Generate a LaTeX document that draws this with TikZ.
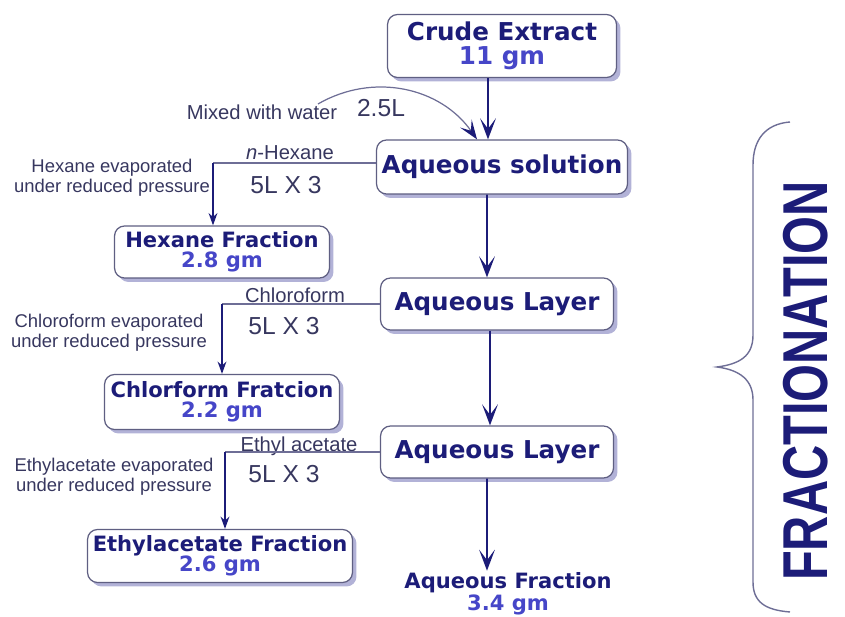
\documentclass[tikz,border=0pt]{standalone}
\usepackage{fontspec}
\setmainfont{DejaVu Sans}
\newfontfamily\labelfont{Liberation Sans}
\usetikzlibrary{arrows.meta,shadows}
\definecolor{navy}{RGB}{28,28,120}
\definecolor{numblue}{RGB}{70,70,200}
\definecolor{boxline}{RGB}{95,95,130}
\definecolor{shade}{RGB}{178,178,215}
\definecolor{thinline}{RGB}{110,110,150}
\definecolor{labtext}{RGB}{55,55,95}
\begin{document}
\begin{tikzpicture}[x=0.02cm, y=-0.02cm,
    box/.style={draw=boxline, line width=0.7pt, rounded corners=0.2cm, fill=white,
        align=center, inner sep=0pt, text=navy,
        drop shadow={shadow xshift=0.08cm, shadow yshift=-0.08cm, fill=shade, opacity=1}},
    bigbox/.style={box, font=\fontsize{14}{14}\selectfont\bfseries},
    fracbox/.style={box, font=\fontsize{12}{11.5}\selectfont\bfseries},
    lab/.style={font=\labelfont\fontsize{11.5}{11.5}\selectfont, text=labtext, inner sep=1pt},
    note/.style={font=\labelfont\fontsize{10.5}{11.5}\selectfont, text=labtext, align=center, inner sep=0pt},
    vol/.style={font=\labelfont\fontsize{14}{14}\selectfont, text=labtext, inner sep=0pt},
    mainarrow/.style={draw=navy, line width=1.1pt, -{Stealth[length=12pt, width=9pt, inset=6pt]}},
    sidearrow/.style={draw=navy, line width=1pt, -{Stealth[length=7pt, width=5pt]}},
    sideline/.style={draw=thinline, line width=0.8pt},
    curvearrow/.style={draw=thinline, line width=0.7pt, -{Stealth[length=11pt, width=8pt, inset=5pt, color=navy]}}]
    \useasboundingbox (0,0) rectangle (845,617);
    % nodes
    \node[bigbox, minimum width=4.58cm, minimum height=1.26cm] (crude) at (502,46) {Crude Extract\\{\color{numblue}11 gm}};
    \node[bigbox, minimum width=5.02cm, minimum height=1.08cm] (aqsol) at (502,167) {Aqueous solution};
    \node[bigbox, minimum width=4.66cm, minimum height=1.04cm] (layer1) at (497,304) {Aqueous Layer};
    \node[bigbox, minimum width=4.66cm, minimum height=1.04cm] (layer2) at (497,452) {Aqueous Layer};
    \node[fracbox, minimum width=4.30cm, minimum height=1.04cm] (hexfrac) at (222,252) {Hexane Fraction\\{\color{numblue}2.8 gm}};
    \node[fracbox, minimum width=4.70cm, minimum height=1.10cm] (chlfrac) at (222,402) {Chlorform Fratcion\\{\color{numblue}2.2 gm}};
    \node[fracbox, minimum width=5.30cm, minimum height=1.06cm] (ethfrac) at (220,556) {Ethylacetate Fraction\\{\color{numblue}2.6 gm}};
    \node[font=\fontsize{12}{11}\selectfont\bfseries, text=navy, align=center, inner sep=1pt] (aqfrac) at (508,594) {Aqueous Fraction\\{\color{numblue}3.4 gm}};
    % labels
    \coordinate (wstart) at (318,104);
    \node[lab] (water) at (262,112) {Mixed with water};
    \node[vol] (waterv) at (381,108) {2.5L};
    \node[lab] (hexlab) at (290,153) {\textit{n}-Hexane};
    \node[vol] (hexvol) at (286,185) {5L X 3};
    \node[note] (hexnote) at (112,178) {Hexane evaporated\\under reduced pressure};
    \node[lab] (chllab) at (295,295) {Chloroform};
    \node[vol] (chlvol) at (284,326) {5L X 3};
    \node[note] (chlnote) at (109,333) {Chloroform evaporated\\under reduced pressure};
    \node[lab] (ethlab) at (299,446) {Ethyl acetate};
    \node[vol] (ethvol) at (284,474) {5L X 3};
    \node[note] (ethnote) at (114,477) {Ethylacetate evaporated\\under reduced pressure};
    % turning points of the side branches
    \coordinate (hexdrop) at ([xshift=-0.18cm]hexfrac.north);
    \coordinate (hexstart) at ([yshift=0.08cm]aqsol.west);
    \coordinate (ethdrop) at ([xshift=0.1cm]ethfrac.north);
    % edges
    \draw[mainarrow] ([xshift=-0.28cm]crude.south) -- ([xshift=-0.28cm]aqsol.north);
    \draw[curvearrow] (wstart) to[out=30, in=125] ([xshift=-0.5cm]aqsol.north);
    \draw[mainarrow] ([xshift=-0.3cm]aqsol.south) -- ([xshift=-0.2cm]layer1.north);
    \draw[mainarrow] ([xshift=-0.14cm]layer1.south) -- ([xshift=-0.14cm]layer2.north);
    \draw[mainarrow] ([xshift=-0.2cm]layer2.south) -- ([xshift=-0.42cm]aqfrac.north);
    \draw[sideline] (hexstart) -- (hexstart -| hexdrop) coordinate (hexturn);
    \draw[sidearrow] (hexturn) -- (hexdrop);
    \draw[sideline] (layer1.west) -- (layer1.west -| chlfrac.north) coordinate (chlturn);
    \draw[sidearrow] (chlturn) -- (chlfrac.north);
    \draw[sideline] (layer2.west) -- (layer2.west -| ethdrop) coordinate (ethturn);
    \draw[sidearrow] (ethturn) -- (ethdrop);
    % brace
    \draw[thinline, line width=0.8pt] (790,122) .. controls (765,124) and (753,140) .. (753,165)
        -- (753,335) .. controls (753,356) and (740,364) .. (717,367)
        .. controls (740,370) and (753,380) .. (753,400)
        -- (753,582) .. controls (753,602) and (765,610) .. (790,612);
    \node[rotate=90, text=navy, inner sep=0pt] (fract) at (806,381) {\scalebox{0.73}[0.95]{\labelfont\fontsize{38}{38}\selectfont\bfseries FRACTIONATION}};
\end{tikzpicture}
\end{document}
